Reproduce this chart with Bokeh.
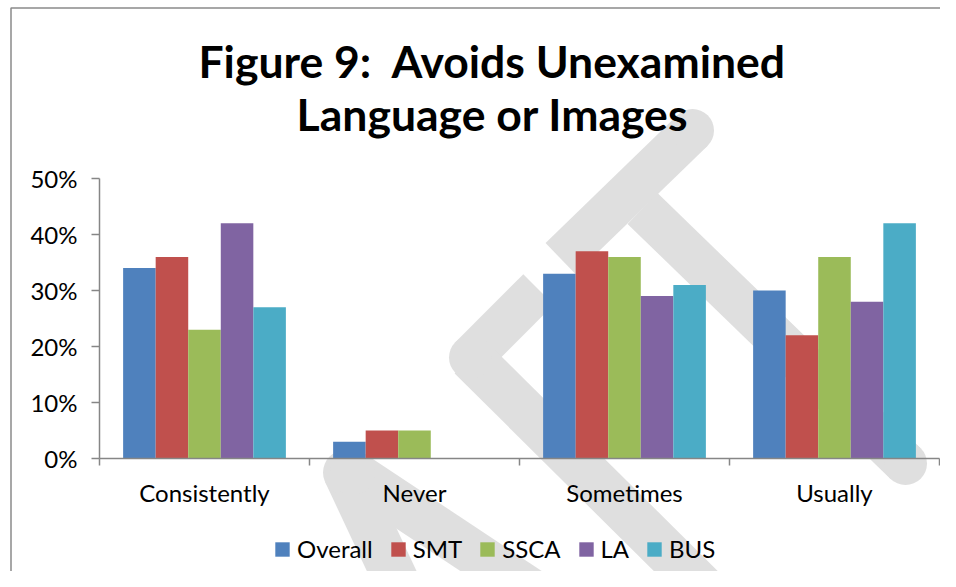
from bokeh.plotting import figure
from bokeh.models import (ColumnDataSource, FixedTicker, NumeralTickFormatter,
                          Legend, LegendItem, Label, Range1d)
from bokeh.transform import dodge
from bokeh.embed import file_html
from bokeh.resources import INLINE
import math

# ---------------- data ----------------
categories = ["Consistently", "Never", "Sometimes", "Usually"]
series = ["Overall", "SMT", "SSCA", "LA", "BUS"]
overall = [0.34, 0.03, 0.33, 0.30]
smt = [0.36, 0.05, 0.37, 0.22]
ssca = [0.23, 0.05, 0.36, 0.36]
la = [0.42, 0.00, 0.29, 0.28]
bus = [0.27, 0.00, 0.31, 0.42]
y_ticks = [0.0, 0.1, 0.2, 0.3, 0.4, 0.5]
title_lines = ["Figure 9:\u00a0 Avoids Unexamined", "Language or Images"]

colors = ["#4F81BD", "#C0504D", "#9BBB59", "#8064A2", "#4BACC6"]
FONT = "Lato"

centers = [i + 0.5 for i in range(len(categories))]
src = ColumnDataSource(dict(x=centers, Overall=overall, SMT=smt, SSCA=ssca, LA=la, BUS=bus))

# ---------------- canvas / frame geometry (pixels) ----------------
W, H = 940, 571
LEFT, RIGHT, TOP, BOTTOM = 99, 939, 178, 458   # plot area in pixels
NCAT, YMAX = len(categories), 0.5

def X(px):
    return (px - LEFT) * NCAT / (RIGHT - LEFT)

def Y(py):
    return (BOTTOM - py) * YMAX / (BOTTOM - TOP)

p = figure(width=W, height=H, output_backend="svg", toolbar_location=None,
           x_range=Range1d(X(0), X(W)), y_range=Range1d(Y(H), Y(0)),
           min_border=0, min_border_left=0, min_border_right=0,
           min_border_top=0, min_border_bottom=0)
p.outline_line_color = None
p.xgrid.visible = False
p.ygrid.visible = False
p.background_fill_color = "white"
p.border_fill_color = "white"

# ---------------- chart border (decorative) ----------------
p.quad(left=X(10.5), right=X(3000), top=Y(7.5), bottom=Y(3000),
       fill_color=None, line_color="#8a8a8a", line_width=1.5, level="underlay")

# ---------------- watermark (decorative) ----------------
WM = "#dfdfdf"
# (x1, y1, x2, y2, width, round start, round end)
strokes = [(692, 130, 560, 258, 43, True, False), (642, 208, 905, 463, 43, False, True),
           (538, 289, 470, 357, 43, False, True), (470, 357, 715, 600, 45, False, False),
           (345, 472, 405, 600, 45, True, False), (352, 472, 545, 600, 45, True, False)]
wxs, wys, cx, cy, cs = [], [], [], [], []
for (x1, y1, x2, y2, w, r1, r2) in strokes:
    L = math.hypot(x2 - x1, y2 - y1)
    nx, ny = -(y2 - y1) / L * w / 2, (x2 - x1) / L * w / 2
    wxs.append([X(x1 + nx), X(x2 + nx), X(x2 - nx), X(x1 - nx)])
    wys.append([Y(y1 + ny), Y(y2 + ny), Y(y2 - ny), Y(y1 - ny)])
    for (rx, ry, on) in [(x1, y1, r1), (x2, y2, r2)]:
        if on:
            cx.append(X(rx)); cy.append(Y(ry)); cs.append(w)
p.patches(xs=wxs, ys=wys, fill_color=WM, line_color=None, level="underlay")
p.scatter(x=cx, y=cy, size=cs, marker="circle", fill_color=WM, line_color=None, level="underlay")

# ---------------- bars ----------------
bw = 0.155
offsets = [-2 * bw, -bw, 0, bw, 2 * bw]
renderers = []
for name, col, off in zip(series, colors, offsets):
    r = p.vbar(x=dodge("x", off, range=p.x_range), top=name, width=bw, bottom=0,
               source=src, fill_color=col, line_color=None)
    renderers.append(r)

# ---------------- axes (drawn at the data origin) ----------------
AX = "#868686"
xa = p.xaxis[0]
xa.fixed_location = 0
xa.bounds = (0, NCAT)
xa.ticker = FixedTicker(ticks=centers, minor_ticks=list(range(NCAT + 1)))
xa.major_label_overrides = {c: lab for c, lab in zip(centers, categories)}
xa.major_tick_out = 0
xa.major_tick_in = 0
xa.minor_tick_out = 7
xa.minor_tick_in = 0
xa.minor_tick_line_color = AX
xa.minor_tick_line_width = 1.5
xa.axis_line_color = AX
xa.axis_line_width = 1.5
xa.major_label_text_font = FONT
xa.major_label_text_font_size = "24px"
xa.major_label_text_color = "black"
xa.major_label_standoff = 12

ya = p.yaxis[0]
ya.fixed_location = 0
ya.bounds = (0, YMAX)
ya.ticker = FixedTicker(ticks=y_ticks, minor_ticks=[])
ya.formatter = NumeralTickFormatter(format="0%")
ya.major_tick_out = 8
ya.major_tick_in = 0
ya.major_tick_line_color = AX
ya.major_tick_line_width = 1.5
ya.axis_line_color = AX
ya.axis_line_width = 1.5
ya.minor_tick_line_color = None
ya.major_label_text_font = FONT
ya.major_label_text_font_size = "24px"
ya.major_label_text_color = "black"
ya.major_label_standoff = 14

# ---------------- title ----------------
for txt, base in zip(title_lines, [60, 113]):
    p.add_layout(Label(x=X(492), y=Y(base), text=txt, text_align="center",
                       text_baseline="alphabetic", text_font=FONT, text_font_style="bold",
                       text_font_size="44.5px", text_color="black"))

# ---------------- legend ----------------
legend = Legend(items=[LegendItem(label=n, renderers=[r]) for n, r in zip(series, renderers)],
                orientation="horizontal", location=(273, 8),
                glyph_width=18, glyph_height=18, label_standoff=6, spacing=16,
                label_text_font=FONT, label_text_font_size="24px", label_text_color="black",
                border_line_color=None, background_fill_alpha=0, padding=0, margin=0)
p.add_layout(legend, "center")

open("out.html", "w").write(file_html(p, INLINE))
